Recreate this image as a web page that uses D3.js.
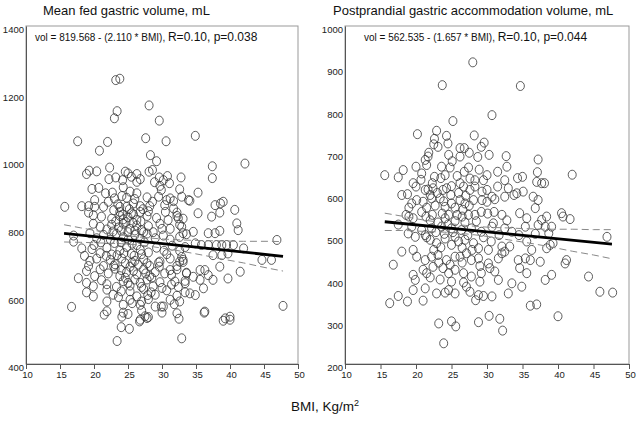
<!DOCTYPE html>
<html><head><meta charset="utf-8">
<script src="https://cdn.jsdelivr.net/npm/d3@7"></script>
<style>body{margin:0;background:#fff}svg{display:block;font-family:"Liberation Sans",Arial,sans-serif}</style>
</head><body><svg id="c" width="637" height="424"></svg>
<script>
const xTicks=[10,15,20,25,30,35,40,45,50];
const leftYTicks=[400,600,800,1000,1200,1400];
const rightYTicks=[200,300,400,500,600,700,800,900,1000];
const leftTitle="Mean fed gastric volume, mL";
const rightTitle="Postprandial gastric accommodation volume, mL";
const leftEq=["vol = 819.568 - (2.110 * BMI), ","R=0.10, p=0.038"];
const rightEq=["vol = 562.535 - (1.657 *  BMI), ","R=0.10, p=0.044"];
const leftFit={a:819.568,b:-2.110,x0:15.6,x1:47.8};
const rightFit={a:562.535,b:-1.657,x0:15.6,x1:47.6};
const leftBandX=[15.6,18,21,24,27,30,33,36,39,42,45,47.8];
const leftBandUp=[812,803,792,782,775,770,767,765,764,763,763,762];
const leftBandLo=[761,760,758,756,751,743,733,722,710,699,686,675];
const rightBandX=[15.6,18,21,24,27,30,33,36,39,42,45,47.6];
const rightBandUp=[557,550,541,534,528,524,522,520,519,519,518,518];
const rightBandLo=[516,516,514,512,508,502,494,486,477,467,458,449];

const leftPts=[[23.2,1240],[23.8,1244],[23.4,1148],[23.0,1127],[28.1,1165],[29.6,1120],[17.6,1059],[22.0,1057],[27.6,1068],[30.6,1059],[20.8,1031],[28.3,1018],[29.2,1000],[34.9,1075],[42.2,993],[37.4,985],[37.4,950],
[22.3,981],[19.3,972],[18.9,962],[20.4,970],[24.6,969],[25.0,964],[26.3,962],[25.5,954],[28.1,969],[28.6,974],[29.6,952],[30.8,956],[32.8,952],[22.2,947],[23.2,952],[26.3,939],[24.2,944],[26.8,947],[28.9,938],[29.7,927],[29.9,915],[31.1,935],[32.6,917],[19.7,918],[20.7,921],[21.7,905],[22.7,907],[24.3,923],[25.3,910],[26.3,905],[24.1,897],[27.8,893],[29.5,895],[30.7,885],[31.7,882],[32.9,895],[15.7,865],[18.2,867],[19.2,867],[20.1,885],[20.1,865],[21.4,865],[22.1,880],[23.8,865],[24.8,865],[25.8,875],[26.8,867],[28.2,867],[30.4,870],[31.2,890],[33.9,885],
[30.2,944],[35.3,907],[34.1,883],[37.8,870],[38.6,875],[39.0,880],[40.7,856],
[38.5,848],[35.3,846],[37.3,836],[41.0,816],[41.2,796],[32.4,831],[32.9,806],[33.1,787],[34.6,791],[36.8,787],[37.8,787],[38.5,794],[46.9,767],[34.9,757],[35.8,752],[36.8,752],[38.0,752],[38.8,752],[39.5,752],[40.5,752],[42.0,742],[37.5,722],[38.8,722],[39.7,727],[44.7,708],[46.1,708],[38.5,688],[41.5,673],[39.7,653],[32.9,717],[33.1,708],[32.6,703],[29.7,703],[31.2,678],[30.4,668],[33.6,668],[35.6,678],[36.3,678],[36.8,663],[37.5,649],[31.9,644],[33.4,639],[34.6,658],[35.6,649],[34.1,609],[34.9,604],[36.1,624],[29.0,570],[30.2,570],[32.2,550],[36.3,555],[39.3,535],[40.0,540],[47.8,572],
[19.2,848],[23.8,850],[25.5,846],[28.0,852],[32.2,848],
[19.9,840],[21.1,836],[22.6,830],[23.8,838],[24.3,828],[25.0,834],[26.3,826],[27.8,838],[29.2,832],[30.9,826],[32.2,838],[33.1,830],
[19.9,815],[20.9,806],[21.9,798],[22.6,812],[23.6,804],[24.3,815],[25.3,800],[26.3,810],[27.0,796],[28.0,808],[29.7,815],[31.2,800],[32.6,812],
[17.0,780],[19.4,787],[20.4,772],[21.4,782],[22.4,768],[23.3,785],[24.3,775],[25.0,768],[26.0,782],[26.8,770],[27.8,786],[29.0,772],[30.2,780],[31.2,768],[32.6,776],[33.6,784],[17.0,762],[18.2,742],
[19.7,740],[20.9,728],[21.9,744],[22.6,724],[23.8,736],[24.8,746],[25.5,726],[26.8,738],[28.0,730],[29.2,744],[30.7,725],[32.6,735],[33.4,746],
[19.4,705],[20.4,712],[21.4,690],[22.4,708],[23.1,695],[24.1,712],[25.3,688],[26.0,705],[26.5,694],[27.3,710],[28.2,690],[29.5,700],[31.2,712],[32.2,690],[33.1,702],
[18.9,675],[20.1,660],[20.9,680],[22.1,668],[23.1,682],[23.8,660],[24.8,672],[26.3,665],[27.3,680],[28.2,660],[29.0,672],[31.4,664],[32.2,680],[33.6,670],
[17.7,654],[18.9,640],[19.9,630],[21.1,648],[21.9,636],[23.3,628],[24.3,645],[25.3,632],[26.8,640],[27.8,650],[28.7,630],[29.7,642],[31.4,635],[32.4,628],[33.4,646],
[18.9,612],[19.9,600],[21.9,620],[22.8,605],[25.3,615],[26.3,600],[27.3,622],[29.0,605],[30.7,618],[32.2,602],[33.4,612],
[16.7,569],[21.9,585],[25.3,590],[26.8,575],[28.0,592],[31.2,590],[32.6,585],
[21.9,556],[24.1,540],[25.0,548],[27.0,558],[27.8,536],[30.0,552],
[21.5,546],[24.3,575],[24.3,552],[25.6,580],[27.0,585],[26.7,526],[26.8,531],[27.5,541],[28.0,539],[24.0,509],[25.2,504],[23.4,468],[29.9,570],[31.8,577],[32.5,534],[32.9,476],[36.2,552],[39.0,528],[40.0,531],
[23.0,890],[24.8,892],[26.0,888],[23.5,872],[25.2,858],[27.2,858],[22.9,855],[24.2,842],[25.8,843],[26.8,850],[23.2,822],[24.7,820],[25.7,818],[26.9,822],[22.8,792],[24.0,795],[25.0,790],[26.0,795],[27.3,790],[23.0,758],[24.0,760],[25.6,756],[26.3,752],[27.4,760],[23.4,722],[24.4,728],[25.9,720],[27.0,725],[22.9,690],[24.6,698],[25.6,700],[27.8,698],[24.0,678],[25.8,676],[27.6,668],[24.6,655],[26.0,650],[28.5,655],[25.0,640],[27.0,628],[24.0,615],[28.4,612],[23.6,598],[27.9,604],[30.0,625],[29.6,688],[30.3,735],[31.5,750],[30.0,800],[28.7,790],[21.0,760],[20.0,752],[18.6,720],[19.2,690],[21.8,720],[30.5,850],[31.7,860],[28.6,880]];

const rightPts=[[28.0,914],[23.7,860],[34.7,858],[30.7,789],[25.2,775],
[20.2,744],[22.9,752],[22.6,733],[23.1,714],[24.3,740],[24.5,722],[28.2,741],[29.2,714],[29.6,724],[26.2,711],[26.8,711],[30.3,695],[32.7,692],[32.8,667],[37.2,684],[37.1,654],[42.0,648],
[21.3,683],[21.7,691],[21.5,671],[24.6,695],[25.1,680],[26.2,691],
[15.6,647],[17.5,642],[18.2,659],[20.0,667],[20.8,651],[20.7,636],[22.6,643],[22.3,628],[23.6,667],[24.1,647],
[27.4,665],[27.6,639],[28.3,635],[29.5,635],[30.0,647],[31.5,655],[32.5,635],[35.0,643],[37.0,631],[37.7,628],[38.1,628],
[18.8,602],[19.6,628],[21.3,612],[21.7,613],[22.4,616],[23.8,612],[24.3,616],[25.0,621],[26.2,628],[26.7,620],[27.6,612],[28.3,620],[29.3,608],
[30.7,596],[32.5,596],[33.0,616],[34.2,604],[35.1,608],[36.5,596],[37.2,588],
[19.4,580],[20.1,588],[21.0,584],[22.2,592],[23.4,592],[24.1,572],[25.0,580],[26.2,588],[26.9,580],[28.1,588],[29.3,588],[30.0,584],[31.1,590],
[32.1,553],[34.6,557],[35.6,545],[36.8,569],[37.7,541],[38.4,549],[40.5,557],[41.7,543],[40.7,549],
[18.6,553],[19.0,549],[19.6,545],[20.8,560],[21.4,549],[22.3,553],[23.7,556],[24.6,553],[25.8,553],[26.5,549],[27.4,553],[28.3,553],[29.2,560],[30.1,556],[24.1,545],
[19.4,525],[20.8,517],[22.2,521],[23.6,525],[25.0,521],[26.4,517],[27.8,521],[29.2,513],[30.7,525],[30.9,533],[32.5,521],[33.5,513],[35.4,525],[37.2,529],[38.2,525],[39.1,525],[38.7,509],[46.9,501],
[18.9,509],[19.9,501],[21.3,505],[22.0,494],[22.9,486],[24.1,497],[25.5,501],[26.9,494],[28.1,486],[28.8,474],[30.2,470],[32.1,478],[32.5,466],[33.2,478],[35.6,490],[36.3,470],[38.4,474],[38.9,482],[39.3,486],[18.0,466],[19.6,470],
[16.8,435],[20.1,454],[21.3,446],[22.2,454],[23.1,458],[24.3,446],[25.5,454],[26.2,454],[27.1,462],[27.8,446],[28.8,450],[30.2,438],[31.6,450],[32.1,462],[34.4,446],[35.4,450],[36.1,446],[37.5,442],[41.0,438],[41.2,446],
[19.6,411],[19.9,399],[21.0,423],[21.5,415],[22.4,430],[23.8,427],[24.6,415],[25.5,423],[26.7,415],[27.8,407],[29.2,415],[30.4,427],[31.1,419],[31.6,399],[34.6,427],[35.6,415],[38.2,399],[39.1,411],[44.3,407],
[17.5,361],[19.6,375],[21.3,379],[22.9,367],[24.1,369],[24.6,375],[25.5,367],[26.7,393],[27.1,383],[27.6,371],[28.8,363],[29.5,361],[30.7,360],[33.0,367],[33.5,391],[34.9,383],[45.9,371],[47.7,369],
[16.3,344],[18.8,348],[21.0,350],[23.2,296],[25.0,301],[25.6,289],[23.9,249],[28.4,351],[28.8,299],[30.3,314],[31.8,307],[32.2,279],[36.1,338],[37.0,341],[40.0,313],
[22.0,600],[23.0,605],[24.9,600],[26.0,605],[27.0,598],[21.5,570],[22.7,575],[23.9,585],[25.5,570],[26.6,565],[27.5,575],[22.0,540],[23.1,535],[24.5,530],[25.5,538],[26.9,535],[28.5,538],[21.5,500],[22.8,512],[24.0,508],[25.2,512],[26.0,490],[27.3,505],[22.5,470],[23.5,476],[25.0,482],[26.5,475],[27.9,470],[23.2,440],[24.8,435],[26.5,440],[29.0,432],[22.0,405],[23.4,400],[25.0,395],[29.0,395],[23.5,640],[25.8,645],[26.8,655],[24.8,665],[28.9,660],[30.0,612],[31.5,620],[31.0,560],[32.8,540],[33.8,600],[34.3,640],[29.5,500],[30.6,490],[31.7,505],[34.5,505],[36.8,508],[20.0,620],[19.0,570],[18.0,600],[17.5,530],[21.8,700],[22.5,720],[27.5,700],[28.7,690]];

const svg=d3.select("#c");
function panel(cfg){
  const x=d3.scaleLinear().domain([10,50]).range([cfg.x0,cfg.x1]);
  const y=d3.scaleLinear().domain(cfg.domain).range([364,26]);
  const g=svg.append("g");
  g.append("rect").attr("x",cfg.x0).attr("y",26).attr("width",cfg.x1-cfg.x0).attr("height",338)
   .attr("fill","none").attr("stroke","#999").attr("stroke-width",1);
  const xa=g.append("g").attr("transform","translate(0,364)")
   .call(d3.axisBottom(x).tickValues(xTicks).tickSize(5).tickPadding(2).tickFormat(d3.format("d")));
  xa.select(".domain").attr("stroke","#555");
  xa.selectAll(".tick line").attr("stroke","#555");
  xa.selectAll("text").attr("font-size","9.5px").attr("fill","#222").attr("font-family","Liberation Sans, Arial, sans-serif").attr("dx","1");
  const ya=g.append("g").attr("transform",`translate(${cfg.x0},0)`)
   .call(d3.axisLeft(y).tickValues(cfg.yTicks).tickSize(0).tickPadding(2).tickFormat(d3.format("d")));
  ya.select(".domain").attr("stroke","#555");
  ya.selectAll("text").attr("font-size","9.5px").attr("fill","#222").attr("font-family","Liberation Sans, Arial, sans-serif").attr("dy","0.7em");
  g.append("g").selectAll("ellipse").data(cfg.pts).join("ellipse")
   .attr("cx",d=>x(d[0])).attr("cy",d=>y(d[1])).attr("rx",4).attr("ry",4.5)
   .attr("fill","none").attr("stroke","#333").attr("stroke-width",0.8);
  const band=d3.line().x(d=>x(d[0])).y(d=>y(d[1])).curve(d3.curveMonotoneX);
  [cfg.bandUp,cfg.bandLo].forEach(arr=>{
    g.append("path").attr("d",band(cfg.bandX.map((v,i)=>[v,arr[i]])))
     .attr("fill","none").attr("stroke","#888").attr("stroke-width",1).attr("stroke-dasharray","7,4");
  });
  const f=cfg.fit;
  g.append("line").attr("x1",x(f.x0)).attr("y1",y(f.a+f.b*f.x0)).attr("x2",x(f.x1)).attr("y2",y(f.a+f.b*f.x1))
   .attr("stroke","#000").attr("stroke-width",2.8);
  svg.append("text").attr("x",cfg.titleX).attr("y",15).attr("font-size","13px").attr("fill","#111").text(cfg.title);
  const t=svg.append("text").attr("x",cfg.eqX).attr("y",41).attr("fill","#111");
  t.append("tspan").attr("font-size","10px").text(cfg.eq[0]);
  t.append("tspan").attr("font-size","12px").text(cfg.eq[1]);
}
panel({x0:26,x1:298,domain:[400,1400],yTicks:leftYTicks,pts:leftPts,bandX:leftBandX,bandUp:leftBandUp,bandLo:leftBandLo,fit:leftFit,title:leftTitle,titleX:43,eq:leftEq,eqX:35});
panel({x0:345,x1:629,domain:[200,1000],yTicks:rightYTicks,pts:rightPts,bandX:rightBandX,bandUp:rightBandUp,bandLo:rightBandLo,fit:rightFit,title:rightTitle,titleX:333,eq:rightEq,eqX:364});
const xl=svg.append("text").attr("x",325).attr("y",411).attr("text-anchor","middle").attr("font-size","13.5px").attr("fill","#111");
xl.append("tspan").text("BMI, Kg/m");
xl.append("tspan").attr("font-size","9px").attr("dy","-5").text("2");
</script></body></html>
